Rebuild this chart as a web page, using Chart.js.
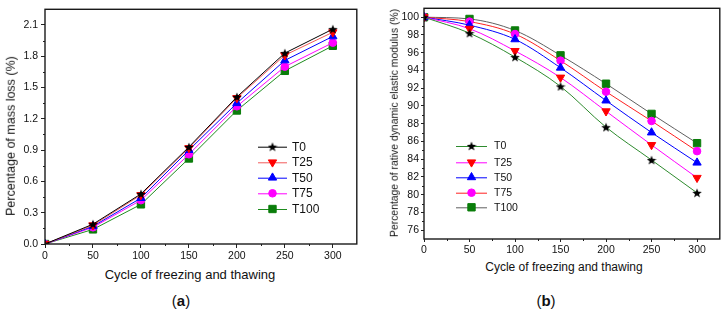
<!DOCTYPE html>
<html>
<head>
<meta charset="utf-8">
<script src="https://cdn.jsdelivr.net/npm/chart.js@4/dist/chart.umd.min.js"></script>
<style>
  html, body { margin: 0; padding: 0; background: #fff; }
  #wrap { position: relative; width: 726px; height: 316px; overflow: hidden; font-family: "Liberation Sans", Arial, sans-serif; color: #111; }
  canvas { position: absolute; top: 0; }
  .t { position: absolute; white-space: nowrap; line-height: 1; }
  .rot { transform: translate(-50%, -50%) rotate(-90deg); }
  .ctr { transform: translate(-50%, -50%); }
</style>
</head>
<body>
<div id="wrap">
  <canvas id="ca" width="363" height="264" style="left:0px"></canvas>
  <canvas id="cb" width="363" height="259" style="left:363px"></canvas>
  <div class="t rot" style="left:11px; top:136px; font-size:12.5px;">Percentage of mass loss (%)</div>
  <div class="t ctr" style="left:190px; top:274px; font-size:13px;">Cycle of freezing and thawing</div>
  <div class="t rot" style="left:395px; top:123px; font-size:10.4px;">Percentage of rative dynamic elastic modulus (%)</div>
  <div class="t ctr" style="left:564px; top:267px; font-size:12px;">Cycle of freezing and thawing</div>
  <div class="t ctr" style="left:181px; top:300px; font-size:15px;">(<b>a</b>)</div>
  <div class="t ctr" style="left:546px; top:300px; font-size:15px;">(<b>b</b>)</div>
</div>
<script>
// ---------- data ----------
const CYCLES = [0, 50, 100, 150, 200, 250, 300];
const SERIES_NAMES = ['T0', 'T25', 'T50', 'T75', 'T100'];

const MASS_T0   = [0, 0.19, 0.48, 0.93, 1.41, 1.83, 2.06];
const MASS_T25  = [0, 0.18, 0.47, 0.92, 1.40, 1.81, 2.03];
const MASS_T50  = [0, 0.17, 0.44, 0.90, 1.35, 1.76, 1.99];
const MASS_T75  = [0, 0.16, 0.42, 0.86, 1.32, 1.70, 1.93];
const MASS_T100 = [0, 0.14, 0.38, 0.82, 1.28, 1.66, 1.90];

const MOD_T0   = [100, 98.2, 95.5, 92.2, 87.6, 83.9, 80.2];
const MOD_T25  = [100, 98.7, 96.2, 93.2, 89.4, 85.6, 81.9];
const MOD_T50  = [100, 99.1, 97.5, 94.3, 90.6, 87.0, 83.6];
const MOD_T75  = [100, 99.5, 98.1, 95.1, 91.6, 88.3, 84.9];
const MOD_T100 = [100, 99.8, 98.5, 95.7, 92.5, 89.1, 85.8];

const X_TICKS = [0, 50, 100, 150, 200, 250, 300];
const MASS_TICKS = [0.0, 0.3, 0.6, 0.9, 1.2, 1.5, 1.8, 2.1];
const MOD_TICKS = [76, 78, 80, 82, 84, 86, 88, 90, 92, 94, 96, 98, 100];

// ---------- styles ----------
function makeStar(size, color) {
  const c = document.createElement('canvas');
  c.width = size; c.height = size;
  const g = c.getContext('2d');
  const cx = size / 2, cy = size / 2 + 0.5, R = size / 2, r = R * 0.42;
  g.beginPath();
  for (let i = 0; i < 10; i++) {
    const ang = -Math.PI / 2 + i * Math.PI / 5;
    const rad = i % 2 === 0 ? R : r;
    const px = cx + Math.cos(ang) * rad, py = cy + Math.sin(ang) * rad;
    if (i === 0) g.moveTo(px, py); else g.lineTo(px, py);
  }
  g.closePath();
  g.fillStyle = color; g.fill();
  return c;
}
const STAR = makeStar(10, '#000');

const BLACK = '#000000', RED = '#ff0000', BLUE = '#0000ff', MAG = '#ff00ff', GREEN = '#0a7d0a';

const MARKERS = [
  { style: STAR, rot: 0, r: 5, color: BLACK },
  { style: 'triangle', rot: 180, r: 4.8, color: RED },
  { style: 'triangle', rot: 0, r: 4.8, color: BLUE },
  { style: 'circle', rot: 0, r: 3.8, color: MAG },
  { style: 'rect', rot: 0, r: 5.2, color: GREEN }
];
const LINES_A = [BLACK, '#f25a5a', BLUE, MAG, '#1e8c1e'];
const LINES_B = ['#2e8b2e', MAG, BLUE, '#ff2020', '#606060'];

function makeDatasets(arrays, lineColors, smooth) {
  return arrays.map((arr, i) => ({
    label: SERIES_NAMES[i],
    data: arr,
    borderColor: lineColors[i],
    borderWidth: 1,
    backgroundColor: MARKERS[i].color,
    pointStyle: MARKERS[i].style,
    pointRotation: MARKERS[i].rot,
    pointRadius: MARKERS[i].r,
    pointBackgroundColor: MARKERS[i].color,
    pointBorderColor: MARKERS[i].color,
    pointBorderWidth: 1,
    cubicInterpolationMode: smooth ? 'monotone' : 'default',
    tension: 0,
    fill: false
  }));
}

// frame + minor ticks + legend plugin
const decor = {
  id: 'decor',
  afterDraw(chart, args, opts) {
    const ctx = chart.ctx, a = chart.chartArea;
    const xs = chart.scales.x, ys = chart.scales.y;
    ctx.save();
    ctx.strokeStyle = '#222'; ctx.lineWidth = 1;
    ctx.beginPath();
    opts.xMinor.forEach(v => {
      const px = Math.round(xs.getPixelForValue(v)) + 0.5;
      ctx.moveTo(px, a.bottom); ctx.lineTo(px, a.bottom + opts.minorLen);
    });
    opts.yMinor.forEach(v => {
      const py = Math.round(ys.getPixelForValue(v)) + 0.5;
      ctx.moveTo(a.left, py); ctx.lineTo(a.left - opts.minorLen, py);
    });
    ctx.stroke();
    ctx.strokeStyle = '#1a1a1a'; ctx.lineWidth = 1.4;
    ctx.strokeRect(a.left, a.top, a.right - a.left, a.bottom - a.top);
    const L = opts.legend;
    ctx.font = L.font + 'px "Liberation Sans", Arial, sans-serif';
    ctx.textBaseline = 'middle';
    chart.data.datasets.forEach((ds, i) => {
      const y = L.y[i];
      ctx.strokeStyle = ds.borderColor; ctx.lineWidth = 1;
      ctx.beginPath(); ctx.moveTo(L.x0, y + 0.5); ctx.lineTo(L.x1, y + 0.5); ctx.stroke();
      ctx.fillStyle = ds.pointBackgroundColor; ctx.strokeStyle = ds.pointBorderColor;
      Chart.helpers.drawPoint(ctx, { pointStyle: ds.pointStyle, rotation: ds.pointRotation, radius: ds.pointRadius, borderWidth: 1 }, (L.x0 + L.x1) / 2, y);
      ctx.fillStyle = '#111';
      ctx.fillText(ds.label, L.tx, y + 0.5);
    });
    ctx.restore();
  }
};

function between(ticks, lo, hi) {
  const out = [];
  for (let i = 0; i < ticks.length - 1; i++) out.push((ticks[i] + ticks[i + 1]) / 2);
  const step = ticks[1] - ticks[0];
  const last = ticks[ticks.length - 1] + step / 2;
  if (last < hi - 1e-9) out.push(last);
  const first = ticks[0] - step / 2;
  if (first > lo + 1e-9) out.unshift(first);
  return out;
}

function makeChart(id, cfg) {
  return new Chart(document.getElementById(id), {
    type: 'line',
    data: { labels: CYCLES, datasets: cfg.datasets },
    options: {
      responsive: false, animation: false, devicePixelRatio: 1,
      layout: { padding: cfg.padding },
      plugins: {
        legend: { display: false }, tooltip: { enabled: false },
        decor: cfg.decor
      },
      scales: {
        x: {
          type: 'linear', min: 0, max: 325,
          afterBuildTicks: s => { s.ticks = X_TICKS.map(v => ({ value: v })); },
          afterFit: s => { s.height = cfg.xHeight; },
          border: { display: false },
          grid: { drawOnChartArea: false, drawTicks: true, tickLength: cfg.tickLen, color: '#222', lineWidth: 1 },
          ticks: { padding: cfg.xPad, color: '#111', font: { family: '"Liberation Sans", Arial, sans-serif', size: cfg.tickFont }, maxRotation: 0, autoSkip: false }
        },
        y: {
          type: 'linear', min: cfg.yMin, max: cfg.yMax,
          afterBuildTicks: s => { s.ticks = cfg.yTicks.map(v => ({ value: v })); },
          afterFit: s => { s.width = cfg.yWidth; },
          border: { display: false },
          grid: { drawOnChartArea: false, drawTicks: true, tickLength: cfg.tickLen, color: '#222', lineWidth: 1 },
          ticks: { padding: cfg.yPad, color: '#111', font: { family: '"Liberation Sans", Arial, sans-serif', size: cfg.tickFont }, autoSkip: false,
                   callback: v => cfg.fmt(v) }
        }
      }
    },
    plugins: [decor]
  });
}

function toXY(arr) { return arr.map((v, i) => ({ x: CYCLES[i], y: v })); }

const dsA = makeDatasets([MASS_T0, MASS_T25, MASS_T50, MASS_T75, MASS_T100].map(toXY), LINES_A, false);
const dsB = makeDatasets([MOD_T0, MOD_T25, MOD_T50, MOD_T75, MOD_T100].map(toXY), LINES_B, true);

makeChart('ca', {
  datasets: dsA,
  padding: { left: 0, top: 8, right: 2, bottom: 0 },
  xHeight: 20, yWidth: 45, tickLen: 4, xPad: 2, yPad: 3, tickFont: 10.5,
  yMin: 0, yMax: 2.25, yTicks: MASS_TICKS, fmt: v => v.toFixed(1),
  decor: {
    xMinor: between(X_TICKS, 0, 325), yMinor: between(MASS_TICKS, 0, 2.25), minorLen: 2,
    legend: { x0: 258, x1: 287, tx: 292, font: 12, y: [146.7, 162.3, 177.7, 193.3, 209] }
  }
});

makeChart('cb', {
  datasets: dsB,
  padding: { left: 0, top: 6, right: 4, bottom: 0 },
  xHeight: 20, yWidth: 61, tickLen: 3, xPad: 2, yPad: 2, tickFont: 10.5,
  yMin: 75, yMax: 101, yTicks: MOD_TICKS, fmt: v => String(v),
  decor: {
    xMinor: between(X_TICKS, 0, 325), yMinor: between(MOD_TICKS, 75, 101), minorLen: 2,
    legend: { x0: 93, x1: 124, tx: 131, font: 10.5, y: [146, 162.3, 177.3, 192.7, 207.3] }
  }
});
</script>
</body>
</html>
